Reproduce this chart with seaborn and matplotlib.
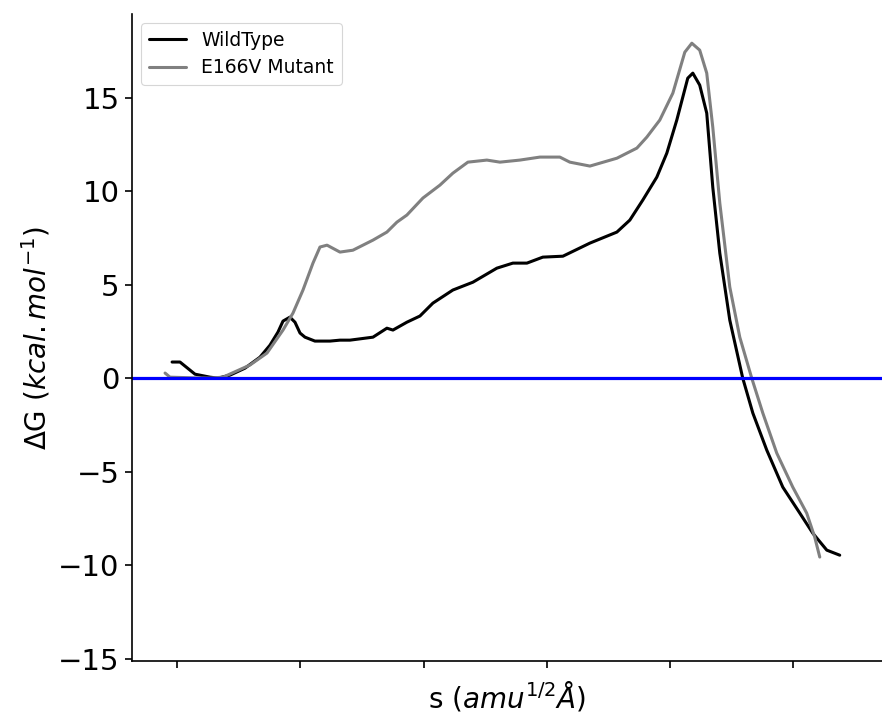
import matplotlib
matplotlib.use("Agg")
import matplotlib.pyplot as plt
import numpy as np
import pandas as pd
import seaborn as sns

sns.set_theme(style="ticks", context="paper", rc={
    "text.color": "black",
    "axes.labelcolor": "black",
    "axes.edgecolor": "black",
    "xtick.color": "black",
    "ytick.color": "black",
})

# reaction coordinate s (arbitrary units, tick labels hidden) and free energy
s_wild = [-0.04, 0.024, 0.146, 0.268, 0.333, 0.430, 0.551, 0.673, 0.754, 0.819,
          0.860, 0.916, 0.957, 0.998, 1.038, 1.119, 1.241, 1.322, 1.403, 1.590,
          1.703, 1.752, 1.865, 1.971, 2.076, 2.238, 2.401, 2.595, 2.725, 2.839,
          2.968, 3.131, 3.350, 3.569, 3.674, 3.779, 3.893, 3.974, 4.055, 4.144,
          4.185, 4.241, 4.298, 4.347, 4.404, 4.485, 4.590, 4.672, 4.785, 4.915,
          5.053, 5.158, 5.272, 5.377]
dg_wild = [0.86, 0.86, 0.21, 0.05, 0.0, 0.16, 0.53, 1.12, 1.76, 2.46,
           3.05, 3.26, 2.99, 2.41, 2.19, 1.98, 1.98, 2.03, 2.03, 2.19,
           2.67, 2.57, 2.99, 3.32, 4.01, 4.71, 5.13, 5.88, 6.15, 6.15,
           6.47, 6.52, 7.22, 7.81, 8.45, 9.52, 10.75, 12.03, 13.80, 16.04,
           16.31, 15.67, 14.17, 10.21, 6.68, 3.10, 0.0, -1.87, -3.85, -5.83,
           -7.22, -8.29, -9.20, -9.47]

s_mut = [-0.097, -0.057, 0.105, 0.268, 0.373, 0.592, 0.730, 0.860, 0.941, 1.022,
         1.103, 1.160, 1.217, 1.322, 1.427, 1.590, 1.703, 1.784, 1.865, 1.995,
         2.133, 2.238, 2.360, 2.514, 2.620, 2.782, 2.944, 3.106, 3.187, 3.350,
         3.569, 3.731, 3.812, 3.917, 4.023, 4.120, 4.177, 4.241, 4.298, 4.347,
         4.404, 4.485, 4.566, 4.663, 4.753, 4.866, 4.996, 5.109, 5.174, 5.215]
dg_mut = [0.27, 0.05, 0.02, 0.0, 0.05, 0.70, 1.34, 2.57, 3.48, 4.71,
          6.15, 7.01, 7.11, 6.74, 6.84, 7.38, 7.81, 8.34, 8.72, 9.63,
          10.32, 10.96, 11.55, 11.66, 11.55, 11.66, 11.82, 11.82, 11.55, 11.34,
          11.76, 12.30, 12.89, 13.80, 15.24, 17.43, 17.91, 17.54, 16.31, 13.42,
          9.36, 4.87, 2.19, 0.0, -1.87, -4.01, -5.83, -7.22, -8.50, -9.57]

s_ticks = [0, 1, 2, 3, 4, 5]
dg_ticks = [-15, -10, -5, 0, 5, 10, 15]

fig = plt.figure(figsize=(8.82, 7.13), dpi=100)
ax = fig.add_axes([0.1497, 0.0729, 0.8503, 0.9074])

sns.lineplot(x=s_wild, y=dg_wild, ax=ax, color="black", linewidth=2.2, label="WildType")
sns.lineplot(x=s_mut, y=dg_mut, ax=ax, color="grey", linewidth=2.2, label="E166V Mutant")
ax.axhline(0, color="blue", linewidth=2.3)

ax.set_xlim(-0.365, 5.72)
ax.set_ylim(-15.13, 19.47)
ax.set_xticks(s_ticks)
ax.set_xticklabels([""] * len(s_ticks))
ax.set_yticks(dg_ticks)
ax.tick_params(axis="both", labelsize=21, length=5, width=1.2, pad=4)
for side in ["left", "bottom"]:
    ax.spines[side].set_linewidth(1.2)
ax.set_xlabel(r"s ($amu^{1/2}\AA$)", fontsize=20)
ax.set_ylabel(r"$\Delta$G ($kcal.mol^{-1}$)", fontsize=20)
ax.legend(loc="upper left", fontsize=13.5, labelspacing=0.45)
sns.despine(ax=ax)

fig.savefig("out.png", dpi=100)
